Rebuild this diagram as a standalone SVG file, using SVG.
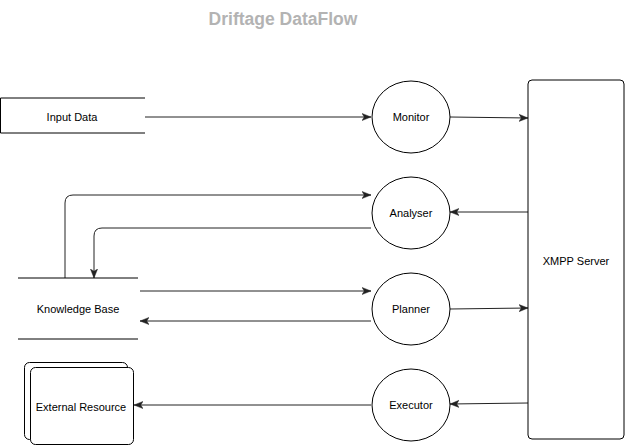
<svg xmlns="http://www.w3.org/2000/svg" width="625" height="447" viewBox="0 0 625 447">
<style>
.s{fill:#fff;stroke:#000;stroke-width:1}
.o{fill:none;stroke:#000;stroke-width:1}
.t{font-family:"Liberation Sans",Arial,sans-serif;font-size:11px;fill:#000;text-anchor:middle;dominant-baseline:central}
.c{fill:none;stroke:#222;stroke-width:1}
</style>
<defs>
<marker id="a" viewBox="0 0 10 10" refX="10" refY="5" markerWidth="9" markerHeight="9" markerUnits="userSpaceOnUse" orient="auto">
<path d="M0,1 L10,5 L0,9 L2.5,5 Z" fill="#222" stroke="#222" stroke-width="0.5"/>
</marker>
</defs>
<rect width="625" height="447" fill="#fff"/>
<text x="283" y="19" font-family="'Liberation Sans',Arial,sans-serif" font-size="17.5" font-weight="bold" fill="#b3b3b3" text-anchor="middle" dominant-baseline="central">Driftage DataFlow</text>
<g id="connectors">
<path class="c" d="M145,117 L371,117" marker-end="url(#a)"/>
<path class="c" d="M450,117 L528,118" marker-end="url(#a)"/>
<path class="c" d="M528,212 L450,212" marker-end="url(#a)"/>
<path class="c" d="M371,228 L102,228 Q94,228 94,236 L94,278" marker-end="url(#a)"/>
<path class="c" d="M65,278 L65,203 Q65,195 73,195 L371,195" marker-end="url(#a)"/>
<path class="c" d="M140,291 L371,291" marker-end="url(#a)"/>
<path class="c" d="M371,321 L140,321" marker-end="url(#a)"/>
<path class="c" d="M450,309 L528,308" marker-end="url(#a)"/>
<path class="c" d="M528,403 L450,404" marker-end="url(#a)"/>
<path class="c" d="M371,405 L134,405" marker-end="url(#a)"/>
</g>
<g id="input-data">
<path class="o" d="M145,98 L0.5,98 L0.5,133 L145,133"/>
<text class="t" x="72" y="117">Input Data</text>
</g>
<g id="monitor">
<ellipse class="s" cx="411" cy="117" rx="39" ry="36"/>
<text class="t" x="411" y="117">Monitor</text>
</g>
<g id="analyser">
<ellipse class="s" cx="411" cy="213" rx="39" ry="36"/>
<text class="t" x="411" y="213">Analyser</text>
</g>
<g id="planner">
<ellipse class="s" cx="411" cy="309" rx="39" ry="36"/>
<text class="t" x="411" y="309">Planner</text>
</g>
<g id="executor">
<ellipse class="s" cx="411" cy="405" rx="39" ry="36"/>
<text class="t" x="411" y="405">Executor</text>
</g>
<g id="xmpp-server">
<rect class="s" x="528" y="80" width="96" height="359" rx="4"/>
<text class="t" x="576" y="261">XMPP Server</text>
</g>
<g id="knowledge-base">
<path class="o" d="M18,278 L138,278 M18,339 L138,339"/>
<text class="t" x="78" y="309">Knowledge Base</text>
</g>
<g id="external-resource">
<rect class="s" x="24.5" y="362.5" width="103" height="77" rx="5"/>
<rect class="s" x="30.5" y="367.5" width="103" height="77" rx="5"/>
<text class="t" x="81" y="407">External Resource</text>
</g>
</svg>
